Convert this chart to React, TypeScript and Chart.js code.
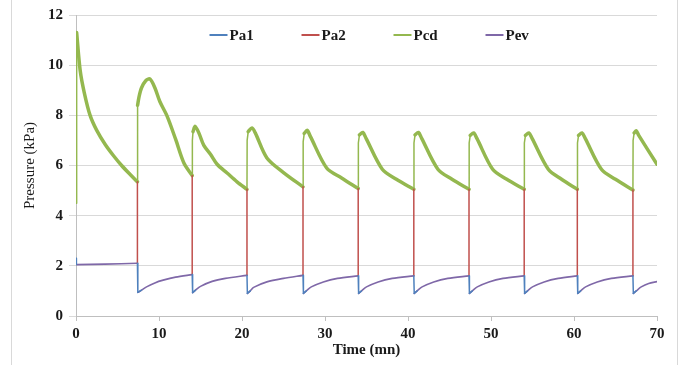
import { useEffect, useRef } from "react";
import { Chart, registerables } from "chart.js";

Chart.register(...registerables);

// ---- Data (time in mn, pressure in kPa); null = gap between cycles ----
const xTicks = [0, 10, 20, 30, 40, 50, 60, 70];
const yTicks = [0, 2, 4, 6, 8, 10, 12];

// Pcd: smooth (thick) part of each cycle
const pcdTime = [
  0.08, 0.5, 1.0, 1.7, 2.5, 3.5, 4.5, 5.5, 6.5, 7.4, 7.4,
  7.42, 7.6, 7.9, 8.4, 8.9, 9.5, 10.1, 11.0, 12.0, 13.0, 14.0, 14.0,
  14.1, 14.35, 14.8, 15.4, 16.2, 17.0, 18.2, 19.4, 20.6, 20.6,
  20.75, 21.2, 21.6, 23.0, 25.0, 27.35, 27.35,
  27.5, 27.85, 28.25, 30.2, 32.0, 34.0, 34.0,
  34.15, 34.55, 34.95, 36.9, 38.6, 40.7, 40.7,
  40.85, 41.25, 41.65, 43.6, 45.3, 47.35, 47.35,
  47.5, 47.9, 48.3, 50.2, 51.9, 54.0, 54.0,
  54.15, 54.55, 54.95, 56.9, 58.5, 60.4, 60.4,
  60.55, 60.95, 61.35, 63.3, 65.0, 67.1, 67.1,
  67.25, 67.5, 67.8, 70.0,
];
const pcdValue = [
  11.3, 9.8, 8.9, 8.0, 7.4, 6.85, 6.4, 6.0, 5.65, 5.35, null,
  8.4, 8.75, 9.1, 9.38, 9.45, 9.1, 8.55, 7.95, 7.05, 6.1, 5.6, null,
  7.35, 7.56, 7.3, 6.8, 6.45, 6.05, 5.7, 5.35, 5.05, null,
  7.35, 7.5, 7.3, 6.3, 5.72, 5.15, null,
  7.28, 7.4, 7.15, 5.9, 5.5, 5.08, null,
  7.22, 7.32, 7.08, 5.85, 5.45, 5.05, null,
  7.22, 7.32, 7.08, 5.85, 5.45, 5.05, null,
  7.2, 7.3, 7.08, 5.85, 5.45, 5.05, null,
  7.2, 7.3, 7.08, 5.85, 5.45, 5.05, null,
  7.2, 7.3, 7.08, 5.85, 5.45, 5.02, null,
  7.3, 7.38, 7.2, 6.05,
];

// Pcd: thin rise at each switch
const pcdRiseTime = [
  0, 0.08, 0.08,
  7.4, 7.42, 7.42,
  14.0, 14.02, 14.1, 14.1,
  20.6, 20.62, 20.75, 20.75,
  27.35, 27.37, 27.5, 27.5,
  34.0, 34.02, 34.15, 34.15,
  40.7, 40.72, 40.85, 40.85,
  47.35, 47.37, 47.5, 47.5,
  54.0, 54.02, 54.15, 54.15,
  60.4, 60.42, 60.55, 60.55,
  67.1, 67.12, 67.25,
];
const pcdRiseValue = [
  4.5, 11.3, null,
  5.35, 8.4, null,
  5.6, 7.0, 7.35, null,
  5.05, 7.0, 7.35, null,
  5.15, 6.95, 7.28, null,
  5.08, 6.9, 7.22, null,
  5.05, 6.9, 7.22, null,
  5.05, 6.9, 7.2, null,
  5.05, 6.9, 7.2, null,
  5.05, 6.9, 7.2, null,
  5.02, 7.0, 7.3,
];

// Pev: smooth part of each cycle
const pevTime = [
  0.05, 3.5, 7.4, 7.4,
  7.45, 7.9, 8.5, 9.5, 10.5, 12.0, 14.0, 14.0,
  14.05, 14.4, 15.0, 16.4, 18.0, 20.6, 20.6,
  20.65, 21.0, 21.4, 23.0, 25.0, 27.35, 27.35,
  27.4, 27.75, 28.35, 29.8, 31.5, 34.0, 34.0,
  34.05, 34.4, 35.0, 36.4, 38.1, 40.7, 40.7,
  40.75, 41.1, 41.7, 43.1, 44.8, 47.35, 47.35,
  47.4, 47.75, 48.35, 49.75, 51.45, 54.0, 54.0,
  54.05, 54.4, 55.0, 56.4, 58.1, 60.4, 60.4,
  60.45, 60.8, 61.4, 62.8, 64.5, 67.1, 67.1,
  67.15, 67.5, 68.1, 69.0, 70.0,
];
const pevValue = [
  2.05, 2.07, 2.1, null,
  0.94, 1.03, 1.16, 1.32, 1.43, 1.55, 1.65, null,
  0.93, 1.03, 1.18, 1.38, 1.5, 1.62, null,
  0.9, 1.0, 1.14, 1.36, 1.5, 1.62, null,
  0.9, 1.0, 1.16, 1.36, 1.5, 1.6, null,
  0.9, 1.0, 1.16, 1.36, 1.5, 1.6, null,
  0.9, 1.0, 1.16, 1.36, 1.5, 1.6, null,
  0.9, 1.0, 1.16, 1.36, 1.5, 1.6, null,
  0.9, 1.0, 1.16, 1.36, 1.5, 1.6, null,
  0.9, 1.0, 1.16, 1.36, 1.5, 1.6, null,
  0.9, 1.0, 1.16, 1.3, 1.37,
];

// Pa1: start spike and drop at each switch
const pa1Time = [
  0, 0.05, 0.05,
  7.4, 7.45, 7.9, 7.9,
  14.0, 14.05, 14.4, 14.4,
  20.6, 20.65, 21.0, 21.0,
  27.35, 27.4, 27.75, 27.75,
  34.0, 34.05, 34.4, 34.4,
  40.7, 40.75, 41.1, 41.1,
  47.35, 47.4, 47.75, 47.75,
  54.0, 54.05, 54.4, 54.4,
  60.4, 60.45, 60.8, 60.8,
  67.1, 67.15, 67.5,
];
const pa1Value = [
  2.3, 2.05, null,
  2.1, 0.94, 1.03, null,
  1.65, 0.93, 1.03, null,
  1.62, 0.9, 1.0, null,
  1.62, 0.9, 1.0, null,
  1.6, 0.9, 1.0, null,
  1.6, 0.9, 1.0, null,
  1.6, 0.9, 1.0, null,
  1.6, 0.9, 1.0, null,
  1.6, 0.9, 1.0, null,
  1.6, 0.9, 1.0,
];

// Pa2: rise at each switch
const pa2Time = [
  7.4, 7.4, 7.4,
  14.0, 14.0, 14.0,
  20.6, 20.6, 20.6,
  27.35, 27.35, 27.35,
  34.0, 34.0, 34.0,
  40.7, 40.7, 40.7,
  47.35, 47.35, 47.35,
  54.0, 54.0, 54.0,
  60.4, 60.4, 60.4,
  67.1, 67.1,
];
const pa2Value = [
  2.1, 5.35, null,
  1.65, 5.6, null,
  1.62, 5.05, null,
  1.62, 5.15, null,
  1.6, 5.08, null,
  1.6, 5.05, null,
  1.6, 5.05, null,
  1.6, 5.05, null,
  1.6, 5.05, null,
  1.6, 5.02,
];

const seriesNames = ["Pa1", "Pa2", "Pcd", "Pev"];
const seriesColors = ["#4F81BD", "#C0504D", "#94B84F", "#7F68A8"];

const toPoints = (t: number[], v: (number | null)[]) =>
  t.map((x, i) => ({ x, y: v[i] }));

const SERIF = "'Liberation Serif', 'Times New Roman', serif";

const insideLegend = {
  id: "insideLegend",
  afterDraw(chart: any) {
    const { ctx, chartArea } = chart;
    ctx.save();
    ctx.font = `bold 15px ${SERIF}`;
    ctx.textBaseline = "middle";
    ctx.textAlign = "left";
    const cx = (chartArea.left + chartArea.right) / 2;
    const y = chartArea.top + 20;
    seriesNames.forEach((name, i) => {
      const x = cx - 157 + i * 92;
      ctx.strokeStyle = seriesColors[i];
      ctx.lineWidth = 2;
      ctx.beginPath();
      ctx.moveTo(x, y);
      ctx.lineTo(x + 18, y);
      ctx.stroke();
      ctx.fillStyle = "#1a1a1a";
      ctx.fillText(name, x + 20, y + 1);
    });
    ctx.restore();
  },
};

export default function App() {
  const ref = useRef<HTMLCanvasElement | null>(null);

  useEffect(() => {
    document.documentElement.style.overflow = "hidden";
    document.body.style.overflow = "hidden";
    const canvas = ref.current;
    if (!canvas) return;
    const line = (label: string, t: number[], v: (number | null)[], color: string, width: number, tension: number) => ({
      label,
      data: toPoints(t, v),
      borderColor: color,
      borderWidth: width,
      pointRadius: 0,
      tension,
      spanGaps: false,
      borderCapStyle: "round" as const,
      borderJoinStyle: "round" as const,
    });
    const chart = new Chart(canvas, {
      type: "line",
      data: {
        datasets: [
          line("Pa1", pa1Time, pa1Value, seriesColors[0], 1.5, 0),
          line("Pa2", pa2Time, pa2Value, seriesColors[1], 1.5, 0),
          line("Pcd", pcdRiseTime, pcdRiseValue, seriesColors[2], 1.5, 0),
          line("Pcd", pcdTime, pcdValue, seriesColors[2], 3.5, 0.3),
          line("Pev", pevTime, pevValue, seriesColors[3], 1.6, 0.3),
        ],
      },
      options: {
        animation: false,
        responsive: true,
        maintainAspectRatio: false,
        devicePixelRatio: 1,
        layout: { padding: { top: 13, right: 20, left: 0, bottom: 0 } },
        plugins: {
          legend: { display: false },
          tooltip: { enabled: false },
        },
        scales: {
          x: {
            type: "linear",
            min: 0,
            max: 70,
            afterFit: (s: any) => {
              s.height = 49;
            },
            afterBuildTicks: (s: any) => {
              s.ticks = xTicks.map((v) => ({ value: v }));
            },
            ticks: {
              color: "#1a1a1a",
              font: { family: SERIF, size: 15, weight: "bold" },
              padding: 4,
              maxRotation: 0,
            },
            grid: {
              drawOnChartArea: false,
              drawTicks: true,
              tickLength: 5,
              color: "#bfbfbf",
            },
            border: { color: "#bfbfbf" },
            title: {
              display: true,
              text: "Time (mn)",
              color: "#1a1a1a",
              font: { family: SERIF, size: 15, weight: "bold" },
              padding: { top: 0, bottom: 6 },
            },
          },
          y: {
            type: "linear",
            min: 0,
            max: 12,
            afterFit: (s: any) => {
              s.width = 64;
            },
            afterBuildTicks: (s: any) => {
              s.ticks = yTicks.map((v) => ({ value: v }));
            },
            ticks: {
              color: "#1a1a1a",
              font: { family: SERIF, size: 15, weight: "bold" },
              padding: 6,
            },
            grid: {
              color: "#d9d9d9",
              drawTicks: true,
              tickLength: 7,
            },
            border: { color: "#bfbfbf" },
            title: {
              display: true,
              text: "Pressure (kPa)",
              color: "#1a1a1a",
              font: { family: SERIF, size: 15, weight: "normal" },
              padding: { top: 9, bottom: 0 },
            },
          },
        },
      },
      plugins: [insideLegend],
    });
    return () => chart.destroy();
  }, []);

  return (
    <div
      style={{
        position: "absolute",
        left: 11,
        top: -1,
        width: 665,
        height: 365,
        borderTop: "1px solid #d9d9d9",
        borderLeft: "1px solid #d9d9d9",
        borderRight: "1px solid #d9d9d9",
        background: "#fff",
      }}
    >
      <canvas ref={ref} style={{ display: "block" }} />
    </div>
  );
}
